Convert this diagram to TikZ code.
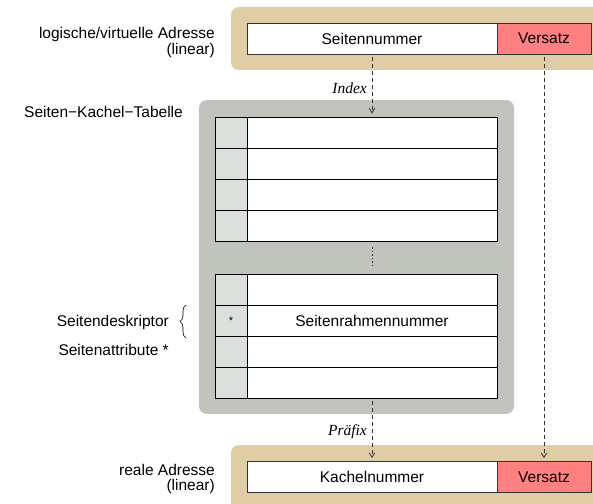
\documentclass[tikz,border=0pt]{standalone}
\usepackage{fontspec}
\setmainfont{Liberation Sans}
\newfontfamily\serifit{Liberation Serif}
\usetikzlibrary{arrows.meta,decorations.pathreplacing}
\definecolor{tan}{RGB}{224,205,166}
\definecolor{tablegray}{RGB}{192,196,189}
\definecolor{attrgray}{RGB}{220,224,220}
\definecolor{versred}{RGB}{255,128,128}
\tikzset{
  lbl/.style={font=\fontsize{15.5}{15.5}\selectfont, inner sep=0pt},
  itlbl/.style={font=\fontsize{15.5}{15.5}\selectfont\serifit\itshape, inner sep=0pt},
  addrbox/.style={draw=black!80, line width=0.9pt, fill=white, minimum height=31pt, inner sep=0pt, font=\fontsize{15.5}{15.5}\selectfont},
  versbox/.style={addrbox, fill=versred, minimum width=94pt},
  attrcell/.style={draw=black, line width=0.8pt, fill=attrgray, minimum width=32pt, minimum height=31pt, inner sep=0pt, font=\fontsize{11}{11}\selectfont},
  maincell/.style={draw=black, line width=0.8pt, fill=white, minimum width=250pt, minimum height=31pt, inner sep=0pt, font=\fontsize{15.5}{15.5}\selectfont},
  dasharrow/.style={draw=black!80, line width=0.8pt, dash pattern=on 4pt off 3pt, -{Straight Barb[length=4.5pt,width=5.5pt]}},
  panel/.style={rounded corners=8pt}
}
\begin{document}
\begin{tikzpicture}[x=1pt,y=-1pt]
\useasboundingbox (0,0) rectangle (593,503);
% backgrounds
\fill[tan, panel] (231,7) rectangle (610,70);
\fill[tablegray, panel] (199,100) rectangle (514,414);
\fill[tan, panel] (231,445) rectangle (610,520);
% virtual address
\node[addrbox, minimum width=250pt] (snum) at (372,38.5) {Seitennummer};
\node[versbox] (vers1) at (544,38.5) {Versatz};
\node[lbl, anchor=east] (vlab1) at (215,34) {logische/virtuelle Adresse};
\node[lbl, anchor=east] (vlab2) at (215,50) {(linear)};
% table label
\node[lbl, anchor=east] (tlab) at (183,112) {Seiten−Kachel−Tabelle};
% table block 1
\node[attrcell] (a1) at (231,132.5) {};
\node[maincell] (m1) at (372,132.5) {};
\node[attrcell] (a2) at (231,163.5) {};
\node[maincell] (m2) at (372,163.5) {};
\node[attrcell] (a3) at (231,194.5) {};
\node[maincell] (m3) at (372,194.5) {};
\node[attrcell] (a4) at (231,225.5) {};
\node[maincell] (m4) at (372,225.5) {};
% table block 2
\node[attrcell] (a5) at (231,289.5) {};
\node[maincell] (m5) at (372,289.5) {};
\node[attrcell] (a6) at (231,320.5) {*};
\node[maincell] (m6) at (372,320.5) {Seitenrahmennummer};
\node[attrcell] (a7) at (231,351.5) {};
\node[maincell] (m7) at (372,351.5) {};
\node[attrcell] (a8) at (231,382.5) {};
\node[maincell] (m8) at (372,382.5) {};
% dots between blocks
\draw[black!80, line width=1pt, dash pattern=on 1.5pt off 2pt, shorten <=6pt, shorten >=8pt] (m4.south) -- (m5.north);
% descriptor labels
\coordinate (bracelo) at (186,338);
\coordinate (bracehi) at (186,305);
\draw[line width=0.6pt, decorate, decoration={brace, amplitude=6pt}] (bracelo) -- (bracehi);
\node[lbl, anchor=east] (desc) at (169,322) {Seitendeskriptor};
\node[lbl, anchor=east] (attr) at (169,350) {Seitenattribute *};
% real address
\node[addrbox, minimum width=250pt] (knum) at (372,477) {Kachelnummer};
\node[versbox] (vers2) at (544,477) {Versatz};
\node[lbl, anchor=east] (rlab1) at (215,470) {reale Adresse};
\node[lbl, anchor=east] (rlab2) at (215,486) {(linear)};
% arrows
\draw[dasharrow, shorten <=3pt, shorten >=3pt] (snum.south) -- (m1.north);
\draw[dasharrow, shorten <=3pt, shorten >=3pt] (vers1.south) -- (vers2.north);
\draw[dasharrow, shorten <=3pt, shorten >=3pt] (m8.south) -- (knum.north);
\node[itlbl, anchor=east] (idx) at (367,88) {Index};
\node[itlbl, anchor=east] (praef) at (367,432) {Präfix};
\end{tikzpicture}
\end{document}
